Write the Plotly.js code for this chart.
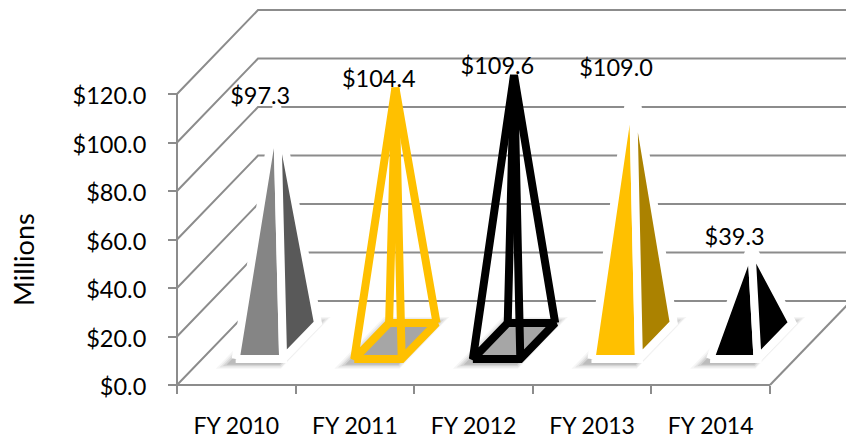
<!DOCTYPE html>
<html>
<head>
<meta charset="utf-8">
<script src="https://cdn.plot.ly/plotly-3.0.1.min.js"></script>
<style>html,body{margin:0;padding:0;background:#fff}#chart{width:846px;height:440px}</style>
</head>
<body>
<div id="chart"></div>
<script>
var categories = ['FY 2010', 'FY 2011', 'FY 2012', 'FY 2013', 'FY 2014'];
var values = [97.3, 104.4, 109.6, 109.0, 39.3];
var valueLabels = ['$97.3', '$104.4', '$109.6', '$109.0', '$39.3'];
var yTicks = [0, 20, 40, 60, 80, 100, 120];
var yTickLabels = ['$0.0', '$20.0', '$40.0', '$60.0', '$80.0', '$100.0', '$120.0'];
var frontColors = ['#858585', null, null, '#ffc000', '#000000'];
var sideColors = ['#595959', null, null, '#ab8200', '#000000'];
var edgeColors = ['#ffffff', '#ffc000', '#000000', '#ffffff', '#ffffff'];

var DX = 0.683, DY = 34.6;          // oblique depth of the 3-D box, in axis units
var X0 = 0.283, X1 = 0.683, Z0 = 0.31, Z1 = 0.74, ZC = 0.525;
var GRID = '#8c8c8c', FONT = 'Lato, Carlito, Calibri, sans-serif', FS = 23.5;

function pt(x, z, v) { return [x + z * DX, v + z * DY]; }
function line(points, color, width) {
  return {type: 'scatter', mode: 'lines', x: points.map(function (p) { return p ? p[0] : null; }),
    y: points.map(function (p) { return p ? p[1] : null; }),
    line: {color: color, width: width}, hoverinfo: 'skip', showlegend: false};
}
function poly(points, fill, stroke, width) {
  var closed = points.concat([points[0]]);
  var t = line(closed, stroke || 'rgba(0,0,0,0)', width || 0);
  t.fill = 'toself'; t.fillcolor = fill;
  return t;
}

var traces = [];
var n = categories.length;
// back wall, left wall and floor edge
yTicks.forEach(function (v) {
  traces.push(line([pt(0, 0, v), pt(0, 1, v), pt(6, 1, v)], GRID, 2));
});
traces.push(line([pt(n, 0, 0), pt(n, 1, 0)], GRID, 2));
traces.push(line([pt(0, 0, 120), pt(0, 0, 0), pt(n, 0, 0)], GRID, 2));

values.forEach(function (v, k) {
  // soft floor shadow
  [[.09, .06, .195, .81, .04], [.07, .05, .21, .795, .06], [.05, .035, .225, .78, .08], [.03, .02, .24, .765, .11]].forEach(function (s) {
    traces.push(poly([pt(k + X0 - s[0], s[2], 0), pt(k + X1 + s[1], s[2], 0), pt(k + X1 + s[1], s[3], 0), pt(k + X0 - s[0], s[3], 0)],
      'rgba(0,0,0,' + s[4] + ')'));
  });
  var FL = pt(k + X0, Z0, 0), FR = pt(k + X1, Z0, 0), BR = pt(k + X1, Z1, 0), BL = pt(k + X0, Z1, 0);
  var A = pt(k + (X0 + X1) / 2, ZC, v);
  if (frontColors[k]) {
    traces.push(poly([FL, FR, A], frontColors[k], edgeColors[k], 8));
    traces.push(poly([FR, BR, A], sideColors[k], edgeColors[k], 8));
  } else {
    traces.push(poly([FL, FR, BR, BL], '#a6a6a6'));
    traces.push(line([FL, FR, BR, BL, FL, A, FR, null, BL, A, BR], edgeColors[k], 8));
  }
});

traces.push({type: 'scatter', mode: 'text', hoverinfo: 'skip', showlegend: false,
  x: values.map(function (v, k) { return pt(k + 0.483, ZC, v)[0] - 0.14; }),
  y: values.map(function (v, k) { return pt(k + 0.483, ZC, v)[1] + 2.7; }),
  text: valueLabels, textposition: 'middle center', textfont: {family: FONT, size: FS, color: '#000'}});

var UX = 118.6, UY = 2.425;   // pixels per axis unit
var layout = {
  width: 846, height: 440, paper_bgcolor: '#fff', plot_bgcolor: 'rgba(0,0,0,0)', showlegend: false,
  margin: {l: 170, r: 0, t: 0, b: 50, pad: 0},
  xaxis: {range: [-7 / UX, 669 / UX], anchor: 'free', position: 5 / 390, tickvals: categories.map(function (c, i) { return i + 0.5; }), ticktext: categories,
    ticks: '', showgrid: false, zeroline: false, showline: false, layer: 'below traces',
    ticklabelstandoff: 25, tickfont: {family: FONT, size: 23, color: '#000'},
    minor: {ticks: 'outside', ticklen: 8, tickwidth: 2, tickcolor: GRID, tickvals: categories.map(function (c, i) { return i; }).concat([n]), showgrid: false}},
  yaxis: {range: [-5 / UY, 385 / UY], anchor: 'free', position: 7 / 676, tickvals: yTicks, ticktext: yTickLabels, ticks: 'outside', ticklen: 9, tickwidth: 2, tickcolor: GRID,
    showgrid: false, zeroline: false, showline: false, layer: 'below traces', ticklabelshift: 2,
    ticklabelstandoff: 17, tickfont: {family: FONT, size: FS, color: '#000'}},
  annotations: [{text: 'Millions', xref: 'paper', yref: 'paper', x: (23 - 170) / 676, y: (390 - 260) / 390, textangle: -90, showarrow: false,
    xanchor: 'center', yanchor: 'middle', font: {family: FONT, size: 27, color: '#000'}}]
};
Plotly.newPlot('chart', traces, layout, {displayModeBar: false, staticPlot: true});
</script>
</body>
</html>
